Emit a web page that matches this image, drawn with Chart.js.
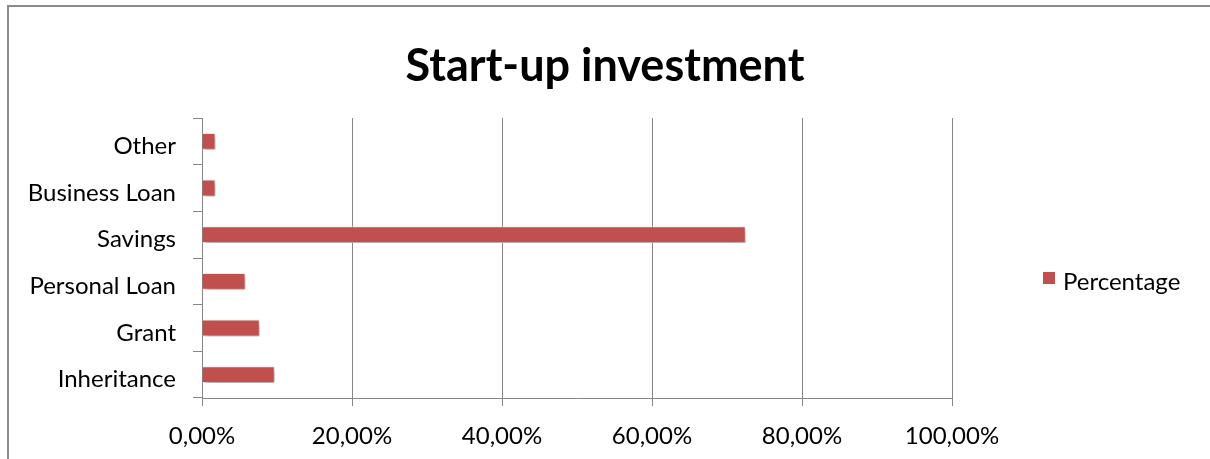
<!DOCTYPE html>
<html>
<head>
<meta charset="utf-8">
<script src="https://cdn.jsdelivr.net/npm/chart.js@4"></script>
<style>
  html, body { margin: 0; padding: 0; background: #fff; }
  #wrap { width: 1210px; height: 459px; position: relative; }
</style>
</head>
<body>
<div id="wrap"><canvas id="investChart"></canvas></div>
<script>
// categories listed top to bottom
const sources = ['Other', 'Business Loan', 'Savings', 'Personal Loan', 'Grant', 'Inheritance'];
const percentage = [1.8, 1.8, 72.5, 5.8, 7.7, 9.7];
const xTicks = [0, 20, 40, 60, 80, 100];
const chartTitle = 'Start-up investment';

const barRed = '#C0504D';
const axisGrey = '#868686';
const fontFamily = 'Lato, "Noto Sans", sans-serif';
const labelFont = { family: fontFamily, size: 24 };

// outer frame (only top and left edges are visible) plus the title,
// which is centred on the whole canvas rather than the plot
const framePlugin = {
  id: 'frame',
  beforeDraw(chart) {
    const ctx = chart.ctx;
    ctx.save();
    ctx.strokeStyle = '#8c8c8c';
    ctx.lineWidth = 2;
    ctx.beginPath();
    ctx.moveTo(8, chart.height);
    ctx.lineTo(8, 6);
    ctx.lineTo(chart.width, 6);
    ctx.stroke();
    ctx.fillStyle = '#000';
    ctx.font = `bold 45px ${fontFamily}`;
    ctx.textAlign = 'center';
    ctx.textBaseline = 'middle';
    ctx.fillText(chartTitle, chart.width / 2, 66);
    ctx.restore();
  }
};

// soft drop shadow under the bars
const shadowPlugin = {
  id: 'barShadow',
  beforeDatasetsDraw(chart) {
    const ctx = chart.ctx;
    ctx.save();
    ctx.shadowColor = 'rgba(0,0,0,0.35)';
    ctx.shadowBlur = 5;
    ctx.shadowOffsetX = 2;
    ctx.shadowOffsetY = 3;
  },
  afterDatasetsDraw(chart) {
    chart.ctx.restore();
  }
};

// single legend entry on the right
const sideLegend = {
  id: 'sideLegend',
  afterDraw(chart) {
    const ctx = chart.ctx;
    const ds = chart.data.datasets[0];
    const x = chart.chartArea.right + 91;
    const y = 278;
    ctx.save();
    ctx.fillStyle = ds.backgroundColor;
    ctx.fillRect(x, y - 6, 12, 12);
    ctx.fillStyle = '#000';
    ctx.font = `${labelFont.size}px ${labelFont.family}`;
    ctx.textBaseline = 'middle';
    ctx.fillText(ds.label, x + 20, y + 4);
    ctx.restore();
  }
};

new Chart(document.getElementById('investChart'), {
  type: 'bar',
  data: {
    labels: sources,
    datasets: [{
      label: 'Percentage',
      data: percentage,
      backgroundColor: barRed,
      borderColor: 'rgba(255,235,235,0.9)',
      borderWidth: 1,
      categoryPercentage: 0.36,
      barPercentage: 1
    }]
  },
  options: {
    indexAxis: 'y',
    responsive: true,
    maintainAspectRatio: false,
    animation: false,
    layout: { padding: { top: 118, left: 7, right: 258, bottom: 0 } },
    plugins: {
      legend: { display: false },
      tooltip: { enabled: false },
      title: { display: false }
    },
    scales: {
      x: {
        min: 0,
        max: 100,
        afterBuildTicks(scale) {
          scale.ticks = xTicks.map(v => ({ value: v }));
        },
        afterFit(scale) { scale.height = 61; },
        grid: { color: axisGrey, lineWidth: 1, tickLength: 8, drawTicks: true },
        border: { color: axisGrey, width: 1 },
        ticks: {
          color: '#000',
          font: labelFont,
          padding: 16,
          maxRotation: 0,
          callback: v => v.toFixed(2).replace('.', ',') + '%'
        }
      },
      y: {
        afterFit(scale) { scale.width = 195; },
        grid: { drawOnChartArea: false, color: axisGrey, tickLength: 9, offset: true },
        border: { color: axisGrey, width: 1 },
        ticks: { color: '#000', font: labelFont, padding: 17, labelOffset: 5 }
      }
    }
  },
  plugins: [framePlugin, shadowPlugin, sideLegend]
});
</script>
</body>
</html>
